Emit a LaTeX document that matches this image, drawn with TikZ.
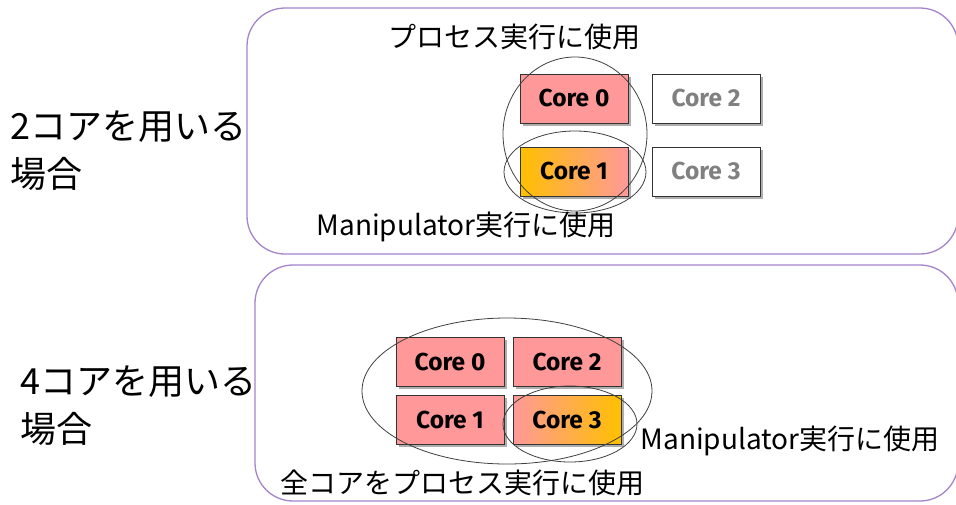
\documentclass[tikz,border=0pt]{standalone}
\usepackage{fontspec}
\setmainfont{Noto Sans CJK JP}
\newfontfamily\corefont{Fira Sans}
\usetikzlibrary{shapes.geometric,shadows}
\definecolor{panelline}{HTML}{A584CC}
\definecolor{corepink}{HTML}{FF9999}
\definecolor{coreorange}{HTML}{FFC000}
\definecolor{idlegrey}{HTML}{808080}
\tikzset{
  panel/.style={draw=panelline, line width=1.3pt, rounded corners=38pt},
  corebox/.style={draw=black!80, line width=0.8pt, minimum width=108pt, minimum height=49pt,
    inner sep=0pt, font=\corefont\bfseries\fontsize{24.5}{28}\selectfont,
    drop shadow={shadow xshift=2.5pt, shadow yshift=-2.5pt, opacity=0.45, fill=black!70}},
  busy/.style={corebox, fill=corepink},
  idle/.style={corebox, fill=white, text=idlegrey},
  group/.style={draw=black!75, line width=0.8pt, ellipse, inner sep=0pt},
  caption/.style={font=\fontsize{28}{32}\selectfont, inner sep=0pt},
  sidelabel/.style={font=\fontsize{36}{48}\selectfont, align=left, inner sep=0pt, anchor=west}
}
\begin{document}
\begin{tikzpicture}[x=1pt,y=-1pt]
\useasboundingbox (0,0) rectangle (956,504);
\fill[white] (0,0) rectangle (956,504);

% panels
\draw[panel] (247,8) rectangle (958,254);
\draw[panel] (255,265) rectangle (958,501);

% side labels
\node[sidelabel] (two) at (10,151) {2コアを用いる\\場合};
\node[sidelabel] (four) at (20,406) {4コアを用いる\\場合};

% two-core case
\node[busy] (a0) at (574,98.5) {Core 0};
\node[idle] (a2) at (706,98.5) {Core 2};
\node[busy, left color=coreorange, right color=corepink] (a1) at (574,171.5) {Core 1};
\node[idle] (a3) at (706,171.5) {Core 3};
\node[group, minimum width=144pt, minimum height=154pt] (aproc) at (575,134) {};
\node[group, minimum width=142pt, minimum height=82pt] (aman) at (575,172) {};
\node[caption] (aproct) at (514,37) {プロセス実行に使用};
\node[caption] (amant) at (466,227) {Manipulator実行に使用};

% four-core case
\node[busy] (b0) at (450,362) {Core 0};
\node[busy] (b2) at (567,362) {Core 2};
\node[busy] (b1) at (450,420) {Core 1};
\node[busy, left color=corepink, right color=coreorange] (b3) at (567,420) {Core 3};
\node[group, minimum width=290pt, minimum height=146pt] (bproc) at (507,391) {};
\node[group, minimum width=134pt, minimum height=76pt] (bman) at (570,424) {};
\node[caption] (bmant) at (790,441) {Manipulator実行に使用};
\node[caption] (bproct) at (462,483) {全コアをプロセス実行に使用};
\end{tikzpicture}
\end{document}
